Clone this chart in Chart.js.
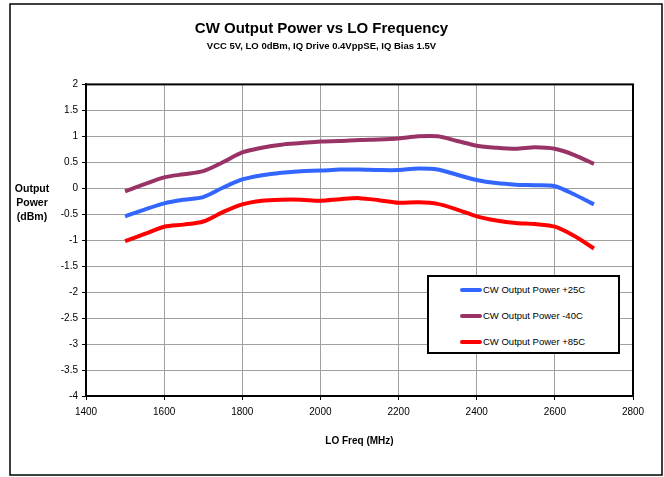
<!DOCTYPE html>
<html>
<head>
<meta charset="utf-8">
<script src="https://cdn.jsdelivr.net/npm/chart.js@4/dist/chart.umd.min.js"></script>
<style>
  html, body { margin: 0; padding: 0; background: #fff; }
  #wrap { position: relative; width: 664px; height: 477px; }
  #chart { display: block; }
  #legendBox {
    position: absolute; left: 427px; top: 275px; width: 189px; height: 75px;
    border: 2px solid #000; background: #fff;
    font-family: "Liberation Sans", Arial, sans-serif; font-size: 9.5px; color: #000;
  }
  #legendBox .row { position: absolute; left: 31px; height: 12px; line-height: 12px; white-space: nowrap; }
  #legendBox .swatch { display: inline-block; width: 22px; height: 4px; border-radius: 2px; vertical-align: middle; margin-right: 1px; }
  #legendBox .txt { vertical-align: middle; }
</style>
</head>
<body>
<div id="wrap">
  <canvas id="chart" width="664" height="477"></canvas>
  <div id="legendBox"></div>
</div>
<script>
// ---------- 数据 ----------
const freqs = [1500, 1550, 1600, 1650, 1700, 1750, 1800, 1850, 1900, 1950, 2000, 2050, 2100,
               2150, 2200, 2250, 2300, 2350, 2400, 2450, 2500, 2550, 2600, 2650, 2700];

const power25 = [-0.54, -0.41, -0.29, -0.22, -0.17, 0.01, 0.17, 0.25, 0.30, 0.33, 0.34, 0.36, 0.36,
                 0.35, 0.35, 0.38, 0.36, 0.26, 0.16, 0.10, 0.07, 0.06, 0.04, -0.12, -0.31];
const powerM40 = [-0.06, 0.08, 0.21, 0.27, 0.33, 0.50, 0.69, 0.78, 0.84, 0.87, 0.90, 0.91, 0.93,
                  0.94, 0.96, 1.00, 1.00, 0.91, 0.82, 0.78, 0.76, 0.79, 0.76, 0.64, 0.47];
const power85 = [-1.02, -0.88, -0.74, -0.70, -0.64, -0.46, -0.31, -0.24, -0.22, -0.22, -0.24, -0.21, -0.19,
                 -0.23, -0.28, -0.27, -0.30, -0.41, -0.54, -0.62, -0.67, -0.69, -0.74, -0.92, -1.16];

const seriesNames = ['CW Output Power +25C', 'CW Output Power -40C', 'CW Output Power +85C'];
const seriesColors = ['#3366ff', '#993366', '#ff0000'];
const seriesValues = [power25, powerM40, power85];

const xTicks = { min: 1400, max: 2800, step: 200 };
const yTicks = { min: -4, max: 2, step: 0.5 };

const FONT = '"Liberation Sans", Arial, sans-serif';

// 外框 + 绘图区边框 + 纵轴标题
const framePlugin = {
  id: 'frame',
  afterDraw(chart) {
    const ctx = chart.ctx;
    const a = chart.chartArea;
    ctx.save();
    ctx.strokeStyle = '#000';
    ctx.lineWidth = 1.5;
    ctx.strokeRect(10, 4, 652, 471);
    ctx.lineWidth = 2;
    ctx.strokeRect(a.left, a.top, a.right - a.left, a.bottom - a.top);
    ctx.fillStyle = '#000';
    ctx.font = 'bold 10.5px ' + FONT;
    ctx.textAlign = 'center';
    ctx.textBaseline = 'middle';
    ['Output', 'Power', '(dBm)'].forEach((t, i) => ctx.fillText(t, 32, 189 + i * 14));
    ctx.restore();
  }
};

const datasets = seriesNames.map((name, i) => ({
  label: name,
  data: freqs.map((f, j) => ({ x: f, y: seriesValues[i][j] })),
  borderColor: seriesColors[i],
  backgroundColor: seriesColors[i],
  borderWidth: 4,
  pointRadius: 0,
  tension: 0.3,
  fill: false
}));

new Chart(document.getElementById('chart'), {
  type: 'line',
  data: { datasets },
  options: {
    responsive: false,
    animation: false,
    layout: { padding: { left: 10, right: 31, top: 8, bottom: 30 } },
    plugins: {
      legend: { display: false },
      tooltip: { enabled: false },
      title: {
        display: true,
        text: 'CW Output Power vs LO Frequency',
        color: '#000',
        font: { family: FONT, size: 15, weight: 'bold' },
        padding: { top: 12, bottom: 3 }
      },
      subtitle: {
        display: true,
        text: 'VCC 5V, LO 0dBm, IQ Drive 0.4VppSE, IQ Bias 1.5V',
        color: '#000',
        font: { family: FONT, size: 9.5, weight: 'bold' },
        padding: { top: 0, bottom: 32 }
      }
    },
    scales: {
      x: {
        type: 'linear',
        min: xTicks.min, max: xTicks.max,
        afterFit(scale) { scale.height = 51; },
        ticks: {
          stepSize: xTicks.step, color: '#000', font: { family: FONT, size: 10 }, padding: 6, maxRotation: 0,
          callback: v => String(v)
        },
        grid: { color: '#a0a0a0', lineWidth: 1, tickColor: '#000', tickLength: 4 },
        border: { color: '#000', width: 2 },
        title: {
          display: true, text: 'LO Freq (MHz)', color: '#000',
          font: { family: FONT, size: 10, weight: 'bold' },
          padding: { top: 14, bottom: 0 }
        }
      },
      y: {
        type: 'linear',
        min: yTicks.min, max: yTicks.max,
        afterFit(scale) { scale.width = 76; },
        ticks: {
          stepSize: yTicks.step, color: '#000', font: { family: FONT, size: 10 }, padding: 4,
          callback: v => String(v)
        },
        grid: { color: '#a0a0a0', lineWidth: 1, tickColor: '#000', tickLength: 4 },
        border: { color: '#000', width: 2 }
      }
    }
  },
  plugins: [framePlugin]
});

// HTML 图例
function renderLegend() {
  const box = document.getElementById('legendBox');
  box.innerHTML = seriesNames.map((name, i) => `
    <div class="row" style="top:${7 + i * 26}px">
      <span class="swatch" style="background:${seriesColors[i]}"></span><span class="txt">${name}</span>
    </div>`).join('');
}
renderLegend();
</script>
</body>
</html>
